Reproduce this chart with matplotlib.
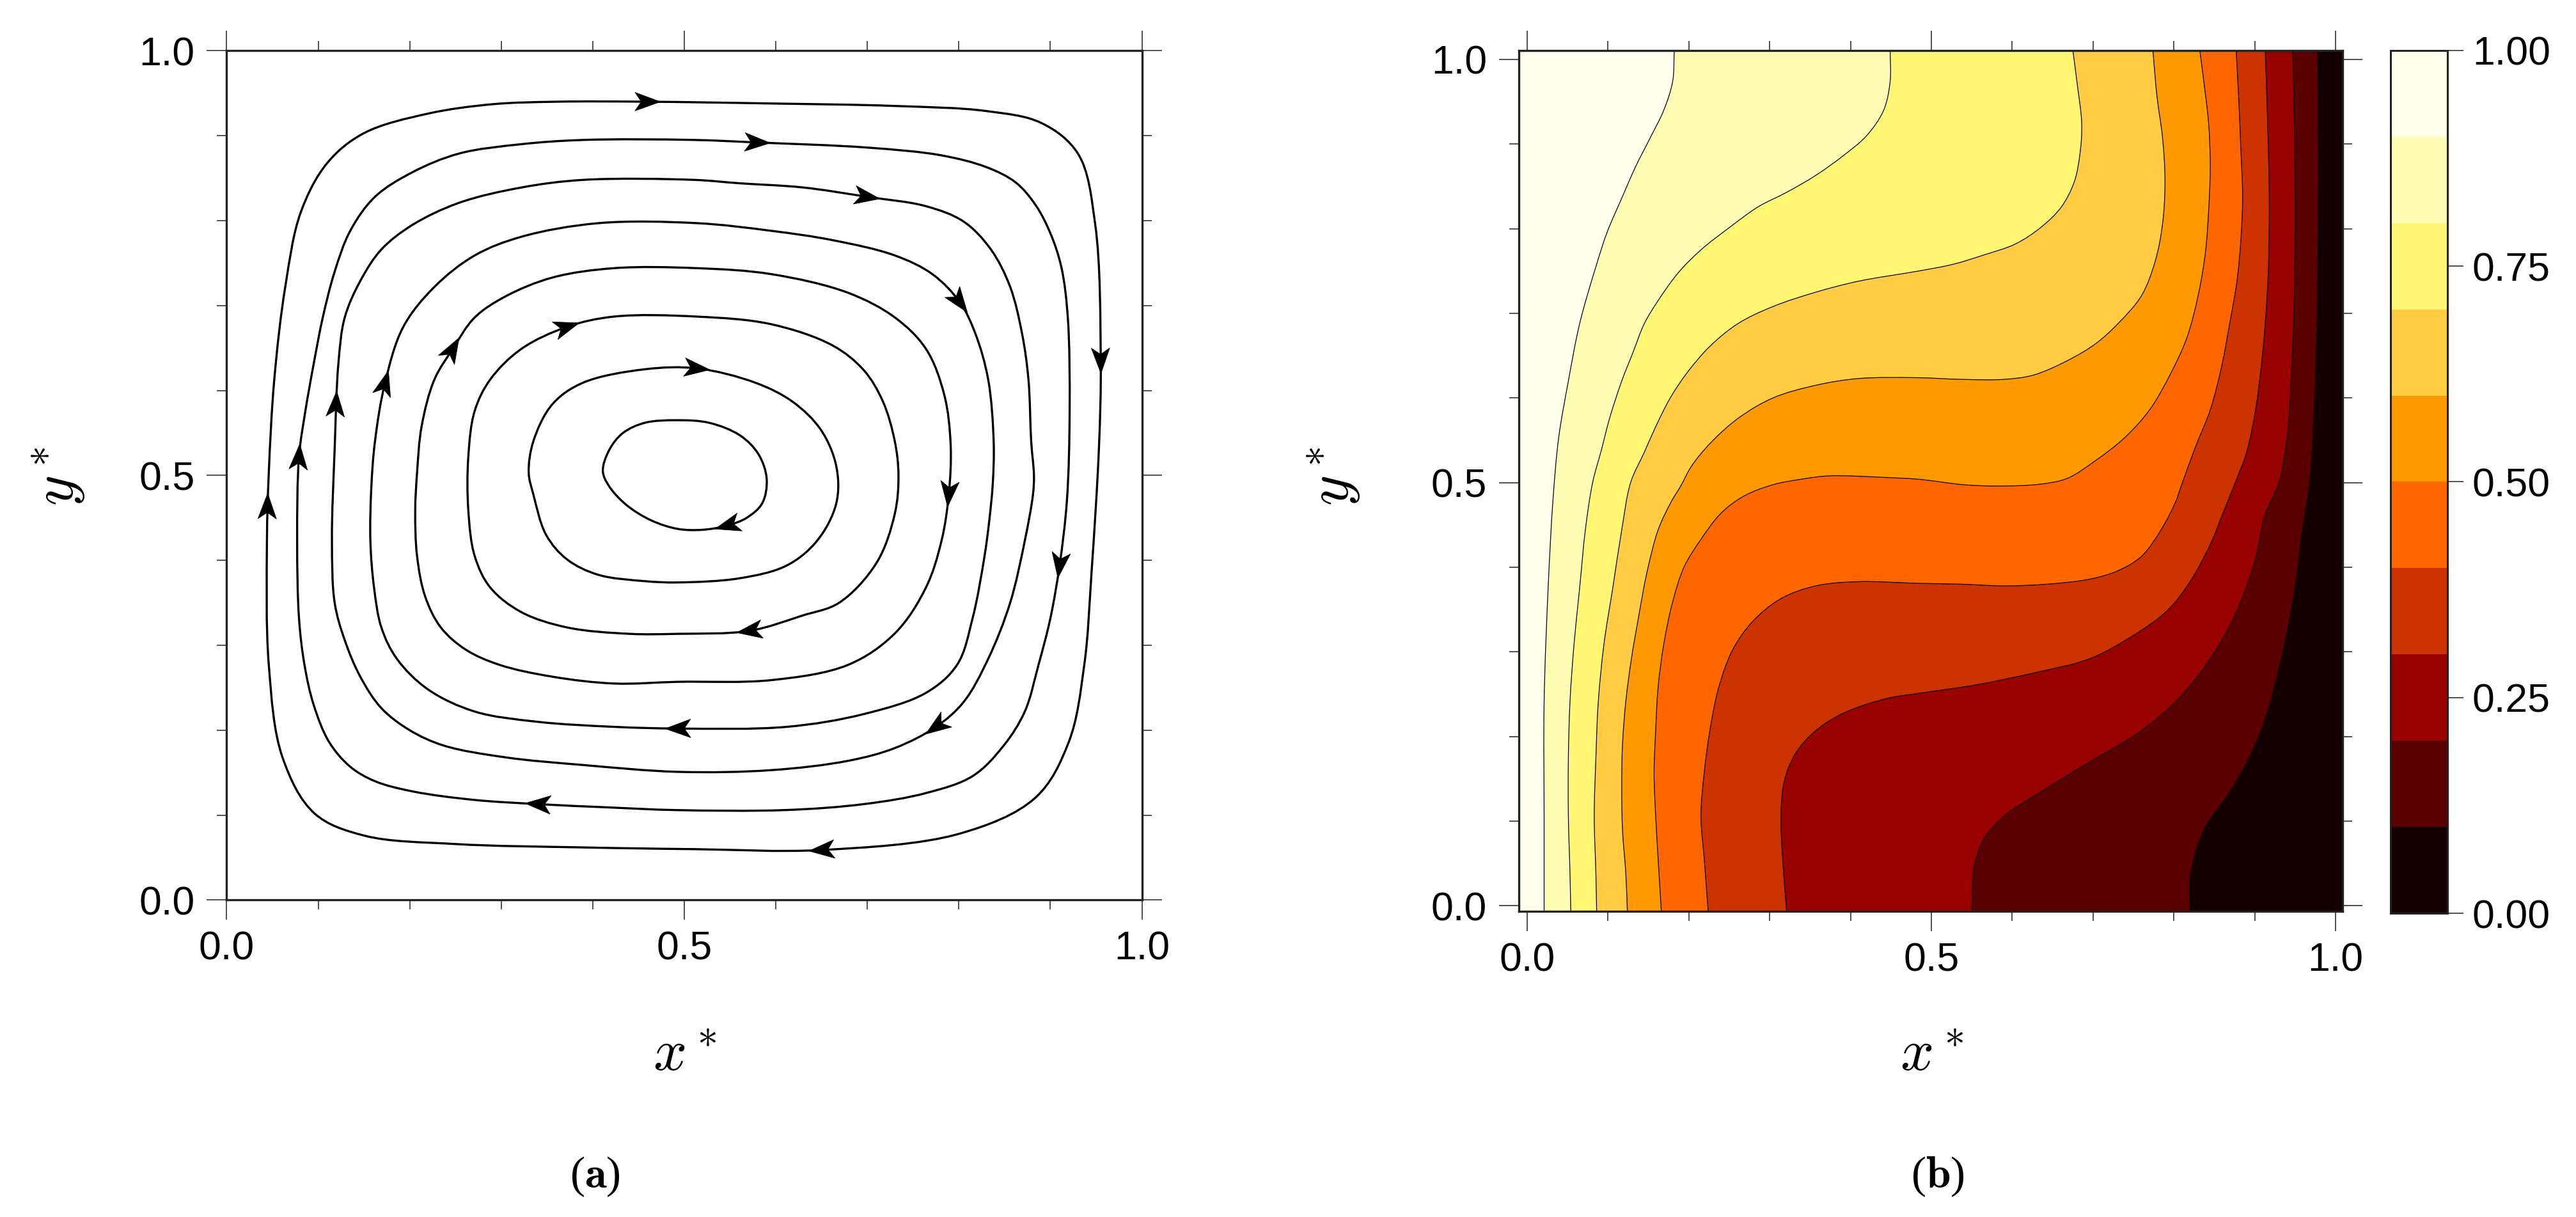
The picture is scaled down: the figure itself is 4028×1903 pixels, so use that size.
import numpy as np
import matplotlib.pyplot as plt
import matplotlib.transforms as mtransforms
from matplotlib.path import Path
from matplotlib.patches import PathPatch, Polygon
from matplotlib.ticker import MultipleLocator, FormatStrFormatter
from matplotlib.colors import ListedColormap, BoundaryNorm
from matplotlib.cm import ScalarMappable

plt.rcParams['font.family'] = ['Liberation Sans', 'DejaVu Sans']
plt.rcParams['mathtext.fontset'] = 'cm'

# ---- (a) streamlines, clockwise from the upper left ----
s1_x = [0.22, 0.29, 0.36, 0.46, 0.59, 0.73, 0.83, 0.89, 0.93, 0.949, 0.955, 0.953, 0.945, 0.937, 0.92, 0.883,
        0.80, 0.65, 0.51, 0.39, 0.25, 0.15, 0.096, 0.061, 0.046, 0.044, 0.046, 0.052, 0.064, 0.081, 0.11, 0.15]
s1_y = [0.926, 0.937, 0.940, 0.940, 0.938, 0.935, 0.929, 0.915, 0.879, 0.795, 0.635, 0.532, 0.387, 0.277, 0.186, 0.120,
        0.078, 0.059, 0.060, 0.062, 0.066, 0.076, 0.102, 0.168, 0.277, 0.423, 0.503, 0.613, 0.722, 0.810, 0.868, 0.903]

s2_x = [0.203, 0.254, 0.322, 0.39, 0.51, 0.58, 0.70, 0.78, 0.83, 0.862, 0.884, 0.90, 0.912, 0.919, 0.921, 0.918,
        0.91, 0.90, 0.887, 0.872, 0.849, 0.815, 0.764, 0.696, 0.61, 0.49, 0.42, 0.34, 0.27, 0.203, 0.162, 0.135,
        0.112, 0.095, 0.085, 0.079, 0.077, 0.079, 0.086, 0.095, 0.105, 0.118, 0.135, 0.162]
s2_y = [0.857, 0.879, 0.890, 0.895, 0.895, 0.892, 0.886, 0.877, 0.863, 0.845, 0.818, 0.785, 0.745, 0.686, 0.576, 0.470,
        0.394, 0.332, 0.277, 0.222, 0.182, 0.146, 0.126, 0.113, 0.106, 0.106, 0.109, 0.113, 0.118, 0.128, 0.140, 0.157,
        0.186, 0.230, 0.277, 0.332, 0.423, 0.522, 0.576, 0.631, 0.686, 0.740, 0.788, 0.828]

s3_x = [0.203, 0.254, 0.322, 0.39, 0.51, 0.56, 0.63, 0.70, 0.764, 0.805, 0.835, 0.856, 0.869, 0.876, 0.879, 0.882,
        0.881, 0.872, 0.856, 0.832, 0.805, 0.775, 0.73, 0.679, 0.595, 0.493, 0.39, 0.305, 0.237, 0.20, 0.169, 0.146,
        0.129, 0.118, 0.115, 0.118, 0.122, 0.129, 0.146, 0.169]
s3_y = [0.795, 0.821, 0.839, 0.848, 0.848, 0.844, 0.839, 0.828, 0.817, 0.799, 0.766, 0.722, 0.667, 0.613, 0.54, 0.50,
        0.478, 0.423, 0.35, 0.284, 0.233, 0.204, 0.179, 0.164, 0.153, 0.151, 0.159, 0.168, 0.182, 0.200, 0.226, 0.263,
        0.306, 0.35, 0.423, 0.532, 0.631, 0.686, 0.729, 0.766]

s4_x = [0.227, 0.271, 0.322, 0.406, 0.514, 0.595, 0.662, 0.730, 0.771, 0.801, 0.818, 0.832, 0.838, 0.837, 0.833,
        0.828, 0.815, 0.798, 0.764, 0.696, 0.612, 0.493, 0.423, 0.339, 0.271, 0.22, 0.186, 0.169, 0.161, 0.157,
        0.158, 0.162, 0.173, 0.193]
s4_y = [0.722, 0.759, 0.781, 0.797, 0.797, 0.788, 0.777, 0.759, 0.737, 0.704, 0.667, 0.613, 0.54, 0.49, 0.445,
        0.405, 0.332, 0.277, 0.244, 0.219, 0.204, 0.202, 0.204, 0.210, 0.222, 0.248, 0.284, 0.321, 0.368, 0.423,
        0.485, 0.540, 0.609, 0.675]

s5_x = [0.271, 0.305, 0.356, 0.423, 0.514, 0.595, 0.679, 0.730, 0.764, 0.784, 0.791, 0.789, 0.781, 0.764, 0.730,
        0.679, 0.595, 0.493, 0.423, 0.356, 0.298, 0.261, 0.234, 0.217, 0.208, 0.206, 0.208, 0.213, 0.227, 0.247]
s5_y = [0.686, 0.711, 0.733, 0.744, 0.744, 0.737, 0.715, 0.686, 0.649, 0.595, 0.536, 0.478, 0.423, 0.368, 0.314,
        0.277, 0.259, 0.257, 0.255, 0.263, 0.277, 0.295, 0.321, 0.357, 0.405, 0.459, 0.503, 0.558, 0.613, 0.649]

s6_x = [0.264, 0.271, 0.288, 0.322, 0.372, 0.423, 0.514, 0.595, 0.662, 0.696, 0.717, 0.730, 0.734, 0.730, 0.710,
        0.669, 0.629, 0.571, 0.493, 0.440, 0.372, 0.322, 0.288, 0.271, 0.264]
s6_y = [0.522, 0.576, 0.613, 0.649, 0.675, 0.687, 0.687, 0.678, 0.653, 0.624, 0.587, 0.540, 0.500, 0.455, 0.397,
        0.350, 0.335, 0.317, 0.3135, 0.3135, 0.321, 0.339, 0.368, 0.405, 0.459]

s7_x = [0.330, 0.335, 0.356, 0.389, 0.457, 0.514, 0.578, 0.618, 0.649, 0.666, 0.666, 0.645, 0.612, 0.561, 0.493,
        0.457, 0.406, 0.372, 0.349, 0.335]
s7_y = [0.503, 0.540, 0.584, 0.609, 0.625, 0.626, 0.609, 0.587, 0.554, 0.511, 0.467, 0.423, 0.394, 0.379, 0.374,
        0.3755, 0.383, 0.401, 0.430, 0.478]

s8_x = [0.411, 0.418, 0.433, 0.457, 0.491, 0.527, 0.561, 0.581, 0.590, 0.585, 0.568, 0.547, 0.520, 0.493, 0.464,
        0.437, 0.418]
s8_y = [0.505, 0.530, 0.550, 0.562, 0.565, 0.562, 0.547, 0.525, 0.496, 0.467, 0.450, 0.441, 0.436, 0.437, 0.447,
        0.465, 0.487]

# arrowhead positions on each streamline
s1_arrows = [(0.445, 0.940), (0.955, 0.622), (0.659, 0.059), (0.044, 0.478)]
s2_arrows = [(0.578, 0.892), (0.910, 0.394), (0.342, 0.113), (0.079, 0.520)]
s3_arrows = [(0.703, 0.828), (0.775, 0.204), (0.122, 0.567)]
s4_arrows = [(0.803, 0.704), (0.481, 0.202), (0.173, 0.609)]
s5_arrows = [(0.791, 0.474), (0.247, 0.649)]
s6_arrows = [(0.366, 0.671), (0.571, 0.317)]
s7_arrows = [(0.518, 0.626)]
s8_arrows = [(0.547, 0.441)]

# ---- (b) isotherms, from the top edge to the bottom edge ----
t90_x = [0.182, 0.180, 0.169, 0.152, 0.134, 0.117, 0.099, 0.085, 0.065, 0.051, 0.039, 0.032, 0.026, 0.021, 0.021, 0.021]
t90_y = [1.011, 0.974, 0.94, 0.907, 0.873, 0.836, 0.796, 0.755, 0.688, 0.62, 0.553, 0.48, 0.376, 0.241, 0.106, -0.007]

t80_x = [0.449, 0.449, 0.441, 0.420, 0.392, 0.357, 0.321, 0.286, 0.251, 0.215, 0.187, 0.162, 0.145, 0.131, 0.117,
         0.102, 0.092, 0.081, 0.072, 0.065, 0.058, 0.053, 0.051, 0.051, 0.053, 0.054]
t80_y = [1.011, 0.974, 0.94, 0.91, 0.887, 0.863, 0.843, 0.826, 0.802, 0.775, 0.748, 0.715, 0.688, 0.654, 0.62,
         0.576, 0.539, 0.50, 0.444, 0.376, 0.309, 0.241, 0.174, 0.106, 0.039, -0.007]

t70_x = [0.675, 0.680, 0.686, 0.684, 0.677, 0.661, 0.636, 0.604, 0.565, 0.527, 0.484, 0.410, 0.357, 0.304, 0.261,
         0.226, 0.198, 0.177, 0.159, 0.145, 0.128, 0.117, 0.106, 0.095, 0.088, 0.085, 0.083, 0.085, 0.086]
t70_y = [1.011, 0.974, 0.924, 0.89, 0.856, 0.826, 0.802, 0.782, 0.769, 0.758, 0.750, 0.738, 0.725, 0.708, 0.688,
         0.661, 0.63, 0.60, 0.566, 0.536, 0.50, 0.444, 0.376, 0.309, 0.241, 0.174, 0.106, 0.039, -0.007]

t60_x = [0.774, 0.779, 0.786, 0.789, 0.786, 0.777, 0.760, 0.731, 0.703, 0.668, 0.626, 0.590, 0.537, 0.482, 0.410,
         0.357, 0.304, 0.261, 0.226, 0.203, 0.190, 0.178, 0.162, 0.148, 0.138, 0.129, 0.122, 0.118, 0.117, 0.118,
         0.122, 0.124]
t60_y = [1.011, 0.957, 0.907, 0.856, 0.806, 0.762, 0.721, 0.688, 0.664, 0.644, 0.627, 0.622, 0.622, 0.624, 0.623,
         0.615, 0.600, 0.576, 0.546, 0.519, 0.496, 0.477, 0.444, 0.393, 0.342, 0.292, 0.241, 0.191, 0.140, 0.089,
         0.039, -0.007]

t50_x = [0.832, 0.837, 0.843, 0.845, 0.843, 0.839, 0.830, 0.816, 0.795, 0.770, 0.739, 0.703, 0.668, 0.633, 0.580,
         0.540, 0.484, 0.445, 0.374, 0.339, 0.304, 0.268, 0.240, 0.215, 0.194, 0.180, 0.169, 0.162, 0.159, 0.157,
         0.159, 0.162, 0.166]
t50_y = [1.011, 0.974, 0.924, 0.873, 0.822, 0.772, 0.721, 0.671, 0.627, 0.586, 0.553, 0.526, 0.505, 0.498, 0.496,
         0.4975, 0.504, 0.506, 0.508, 0.504, 0.4975, 0.484, 0.464, 0.433, 0.400, 0.359, 0.309, 0.258, 0.207, 0.157,
         0.106, 0.056, -0.007]

t40_x = [0.877, 0.880, 0.883, 0.885, 0.883, 0.878, 0.869, 0.859, 0.845, 0.827, 0.809, 0.802, 0.784, 0.760, 0.731,
         0.696, 0.643, 0.590, 0.537, 0.484, 0.410, 0.357, 0.314, 0.279, 0.254, 0.237, 0.226, 0.219, 0.215, 0.219,
         0.224]
t40_y = [1.011, 0.957, 0.890, 0.839, 0.789, 0.738, 0.688, 0.637, 0.586, 0.543, 0.496, 0.477, 0.444, 0.413, 0.396,
         0.386, 0.380, 0.378, 0.380, 0.381, 0.383, 0.378, 0.363, 0.336, 0.302, 0.258, 0.207, 0.157, 0.106, 0.056,
         -0.007]

t30_x = [0.913, 0.916, 0.918, 0.917, 0.913, 0.908, 0.901, 0.890, 0.878, 0.862, 0.845, 0.820, 0.792, 0.749, 0.696,
         0.626, 0.555, 0.484, 0.445, 0.392, 0.357, 0.332, 0.318, 0.314, 0.316, 0.321]
t30_y = [1.011, 0.924, 0.839, 0.755, 0.688, 0.637, 0.586, 0.536, 0.505, 0.467, 0.427, 0.383, 0.349, 0.319, 0.292,
         0.275, 0.261, 0.251, 0.245, 0.228, 0.207, 0.180, 0.147, 0.106, 0.056, -0.007]

t20_x = [0.947, 0.949, 0.950, 0.949, 0.945, 0.940, 0.930, 0.912, 0.901, 0.880, 0.852, 0.809, 0.760, 0.696, 0.633,
         0.590, 0.565, 0.553, 0.550]
t20_y = [1.011, 0.924, 0.822, 0.721, 0.620, 0.553, 0.500, 0.460, 0.410, 0.353, 0.302, 0.248, 0.207, 0.170, 0.133,
         0.106, 0.079, 0.046, -0.007]

t10_x = [0.978, 0.979, 0.978, 0.975, 0.968, 0.959, 0.950, 0.933, 0.908, 0.873, 0.837, 0.821, 0.820]
t10_y = [1.011, 0.890, 0.755, 0.620, 0.500, 0.444, 0.376, 0.292, 0.207, 0.140, 0.089, 0.039, -0.007]

levels = [0.0, 0.1, 0.2, 0.3, 0.4, 0.5, 0.6, 0.7, 0.8, 0.9, 1.0]
band_colors = ['#140000', '#5a0000', '#990000', '#cc3300', '#ff6600',
               '#ff9900', '#ffcc44', '#fff773', '#fffcb4', '#ffffeb']
cbar_ticks = [0.0, 0.25, 0.5, 0.75, 1.0]


def smooth_path(xs, ys, closed=False):
    # centripetal Catmull-Rom through the read points, given to matplotlib as cubic Bezier segments
    p = np.column_stack([xs, ys]).astype(float)
    n = len(p)
    if closed:
        ext = np.vstack([p[-1], p, p[0], p[1]])
        nseg = n
    else:
        ext = np.vstack([2 * p[0] - p[1], p, 2 * p[-1] - p[-2]])
        nseg = n - 1
    verts = [tuple(p[0])]
    codes = [Path.MOVETO]
    for i in range(nseg):
        p0, p1, p2, p3 = ext[i], ext[i + 1], ext[i + 2], ext[i + 3]
        d1 = max(np.hypot(*(p1 - p0)) ** 0.5, 1e-6)
        d2 = max(np.hypot(*(p2 - p1)) ** 0.5, 1e-6)
        d3 = max(np.hypot(*(p3 - p2)) ** 0.5, 1e-6)
        b1 = (d1 ** 2 * p2 - d2 ** 2 * p0 + (2 * d1 ** 2 + 3 * d1 * d2 + d2 ** 2) * p1) / (3 * d1 * (d1 + d2))
        b2 = (d3 ** 2 * p1 - d2 ** 2 * p3 + (2 * d3 ** 2 + 3 * d3 * d2 + d2 ** 2) * p2) / (3 * d3 * (d3 + d2))
        verts += [tuple(b1), tuple(b2), tuple(p2)]
        codes += [Path.CURVE4] * 3
    return verts, codes


def add_arrowhead(fig, ax, path, x, y, length=0.40, width=0.29):
    pts = np.vstack(path.to_polygons(closed_only=False))
    i = np.argmin(np.hypot(pts[:, 0] - x, pts[:, 1] - y))
    n = len(pts)
    a = ax.transData.transform(pts[(i - 3) % n])
    b = ax.transData.transform(pts[(i + 3) % n])
    ang = np.arctan2(b[1] - a[1], b[0] - a[0])
    shape = np.array([[length / 2, 0], [-length / 2, width / 2], [-length / 4, 0], [-length / 2, -width / 2]])
    rot = np.array([[np.cos(ang), -np.sin(ang)], [np.sin(ang), np.cos(ang)]])
    shape = shape @ rot.T
    trans = fig.dpi_scale_trans + mtransforms.ScaledTranslation(pts[i, 0], pts[i, 1], ax.transData)
    ax.add_patch(Polygon(shape, closed=True, transform=trans, facecolor='black', edgecolor='black',
                         lw=0.5, zorder=4))


def style_axes(ax):
    ax.xaxis.set_major_locator(MultipleLocator(0.5))
    ax.yaxis.set_major_locator(MultipleLocator(0.5))
    ax.xaxis.set_minor_locator(MultipleLocator(0.1))
    ax.yaxis.set_minor_locator(MultipleLocator(0.1))
    ax.xaxis.set_major_formatter(FormatStrFormatter('%.1f'))
    ax.yaxis.set_major_formatter(FormatStrFormatter('%.1f'))
    ax.tick_params(which='both', direction='out', top=True, right=True, width=1.2,
                   color='#333333', labelsize=45)
    ax.tick_params(which='major', length=22)
    ax.tick_params(which='minor', length=11)
    ax.tick_params(axis='x', which='major', pad=12)
    ax.tick_params(axis='y', which='major', pad=14)
    for sp in ax.spines.values():
        sp.set_linewidth(2.4)
        sp.set_color('#222222')


fig = plt.figure(figsize=(40.28, 19.03), dpi=100)

# ---- panel (a) ----
ax1 = fig.add_axes([0.0880, 0.2604, 0.3553, 0.6979])
ax1.set_xlim(0, 1)
ax1.set_ylim(0, 1)
style_axes(ax1)

streams = [(s1_x, s1_y, s1_arrows), (s2_x, s2_y, s2_arrows), (s3_x, s3_y, s3_arrows),
           (s4_x, s4_y, s4_arrows), (s5_x, s5_y, s5_arrows), (s6_x, s6_y, s6_arrows),
           (s7_x, s7_y, s7_arrows), (s8_x, s8_y, s8_arrows)]
for sx, sy, arrows in streams:
    verts, codes = smooth_path(sx, sy, closed=True)
    path = Path(verts, codes)
    ax1.add_patch(PathPatch(path, fill=False, edgecolor='black', lw=2.4, zorder=3))
    for ax_, ay_ in arrows:
        add_arrowhead(fig, ax1, path, ax_, ay_)

# ---- panel (b) ----
xl, xr = -0.0103, 1.0087
yb, yt = -0.0068, 1.0107
ax2 = fig.add_axes([0.5896, 0.2510, 0.3198, 0.7076])
ax2.set_xlim(xl, xr)
ax2.set_ylim(yb, yt)
style_axes(ax2)
ax2.set_facecolor(band_colors[9])

isotherms = [(t90_x, t90_y), (t80_x, t80_y), (t70_x, t70_y), (t60_x, t60_y), (t50_x, t50_y),
             (t40_x, t40_y), (t30_x, t30_y), (t20_x, t20_y), (t10_x, t10_y)]
for k, (lx, ly) in enumerate(isotherms):
    verts, codes = smooth_path(lx, ly)
    fill_verts = verts + [(xr + 0.05, ly[-1]), (xr + 0.05, ly[0]), verts[0]]
    fill_codes = codes + [Path.LINETO, Path.LINETO, Path.CLOSEPOLY]
    ax2.add_patch(PathPatch(Path(fill_verts, fill_codes), facecolor=band_colors[8 - k],
                            edgecolor='none', lw=0, zorder=1))
for lx, ly in isotherms:
    verts, codes = smooth_path(lx, ly)
    ax2.add_patch(PathPatch(Path(verts, codes), fill=False, edgecolor='black', lw=0.9, zorder=2))

# colour bar
cax = fig.add_axes([0.9280, 0.2496, 0.0221, 0.7089])
cmap = ListedColormap(band_colors)
norm = BoundaryNorm(levels, cmap.N)
cb = fig.colorbar(ScalarMappable(norm=norm, cmap=cmap), cax=cax, ticks=cbar_ticks)
cb.ax.yaxis.set_major_formatter(FormatStrFormatter('%.2f'))
cb.ax.minorticks_off()
cb.outline.set_linewidth(2.2)
cb.outline.set_edgecolor('#222222')
cax.tick_params(direction='out', length=18, width=1.2, color='#333333', labelsize=45, pad=10)

# axis titles and panel letters
fig.text(1071 / 4028, 1 - 1650 / 1903, r'$x^*$', ha='center', va='center', fontsize=66)
fig.text(92 / 4028, 1 - 745 / 1903, r'$y^*$', ha='center', va='center', fontsize=66, rotation=90)
fig.text(3021 / 4028, 1 - 1650 / 1903, r'$x^*$', ha='center', va='center', fontsize=66)
fig.text(2086 / 4028, 1 - 745 / 1903, r'$y^*$', ha='center', va='center', fontsize=66, rotation=90)
fig.text(930 / 4028, 1 - 1840 / 1903, r'($\mathbf{a}$)', ha='center', va='center', fontsize=50,
         family='Liberation Serif')
fig.text(3030 / 4028, 1 - 1840 / 1903, r'($\mathbf{b}$)', ha='center', va='center', fontsize=50,
         family='Liberation Serif')

fig.savefig('out.png', dpi=100)
